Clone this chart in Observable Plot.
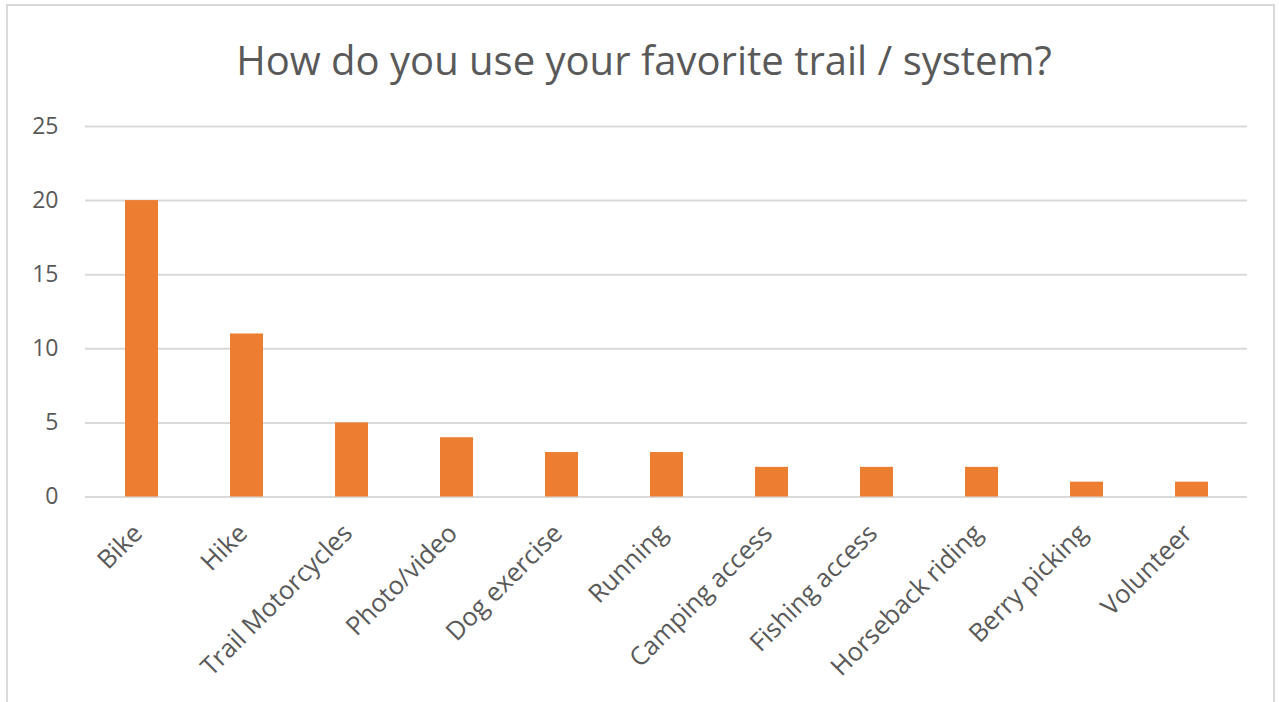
<!DOCTYPE html>
<html>
<head>
<meta charset="utf-8">
<script src="https://cdn.jsdelivr.net/npm/d3@7"></script>
<script src="https://cdn.jsdelivr.net/npm/@observablehq/plot@0.6"></script>
<style>
  html, body { margin: 0; padding: 0; background: #fff; }
  #wrap { position: relative; width: 1279px; height: 702px; overflow: hidden; font-family: "Open Sans", sans-serif; }
  #frame { position: absolute; left: 6px; top: 4px; width: 1269px; height: 760px; border: 2px solid #D9D9D9; box-sizing: border-box; }
  #title { position: absolute; left: 0; top: 40px; width: 1288px; text-align: center; font-size: 40px; color: #595959; white-space: nowrap; line-height: 1; }
  #chart { position: absolute; left: 0; top: 100px; }
</style>
</head>
<body>
<div id="wrap">
  <div id="frame"></div>
  <div id="title">How do you use your favorite trail / system?</div>
  <div id="chart"></div>
</div>
<script>
const categories = ["Bike", "Hike", "Trail Motorcycles", "Photo/video", "Dog exercise", "Running", "Camping access", "Fishing access", "Horseback riding", "Berry picking", "Volunteer"];
const counts = [20, 11, 5, 4, 3, 3, 2, 2, 2, 1, 1];
const yTicks = [0, 5, 10, 15, 20, 25];

const data = categories.map((c, i) => ({category: c, count: counts[i]}));

const chart = Plot.plot({
  width: 1279,
  height: 602,
  marginLeft: 85,
  marginRight: 32,
  marginTop: 26,
  marginBottom: 205.5,
  style: {fontFamily: "Open Sans, sans-serif", fontSize: "23px", color: "#595959", background: "transparent"},
  x: {domain: categories, paddingInner: 0.69, paddingOuter: 0.345, label: null},
  y: {domain: [0, 25], ticks: yTicks, label: null},
  marks: [
    Plot.gridY(yTicks, {stroke: "#D9D9D9", strokeOpacity: 1, strokeWidth: 2}),
    Plot.barY(data, {x: "category", y: "count", fill: "#ED7D31"}),
    Plot.axisY({ticks: yTicks, tickSize: 0, tickPadding: 27, label: null, fill: "#595959"}),
    Plot.axisX({tickSize: 0, tickPadding: 32, dx: -4, tickRotate: -45, label: null, fill: "#595959", fontSize: 25.5})
  ]
});
document.getElementById("chart").appendChild(chart);
</script>
</body>
</html>
